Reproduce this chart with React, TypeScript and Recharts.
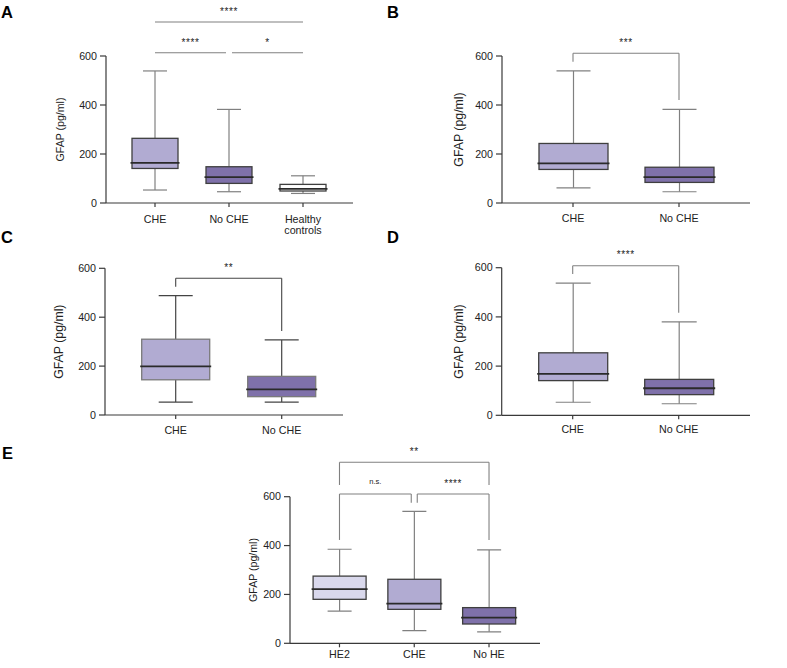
import React from 'react';
import { ComposedChart, Bar, XAxis, YAxis, ReferenceLine } from 'recharts';

const FONT = '"Liberation Sans", Arial, Helvetica, sans-serif';

// ---------- data ----------
const yTicks = [0, 200, 400, 600];
const yLabel = 'GFAP (pg/ml)';

// Panel A
const aCategories = ['CHE', 'No CHE', 'Healthy controls'];
const aMin = [53, 46, 39];
const aQ1 = [141, 80, 49];
const aMedian = [164, 106, 58];
const aQ3 = [264, 148, 76];
const aMax = [539, 382, 111];

// Panel B
const bCategories = ['CHE', 'No CHE'];
const bMin = [62, 46];
const bQ1 = [137, 84];
const bMedian = [162, 106];
const bQ3 = [243, 146];
const bMax = [539, 382];

// Panel C
const cCategories = ['CHE', 'No CHE'];
const cMin = [53, 53];
const cQ1 = [144, 75];
const cMedian = [199, 105];
const cQ3 = [310, 158];
const cMax = [488, 307];

// Panel D
const dCategories = ['CHE', 'No CHE'];
const dMin = [53, 47];
const dQ1 = [141, 84];
const dMedian = [168, 110];
const dQ3 = [254, 146];
const dMax = [537, 380];

// Panel E
const eCategories = ['HE2', 'CHE', 'No HE'];
const eMin = [132, 52, 47];
const eQ1 = [180, 139, 79];
const eMedian = [222, 162, 105];
const eQ3 = [275, 262, 146];
const eMax = [385, 540, 382];

type Bracket = { from: string; to: string; y: number; label: string; legFrom?: number; legTo?: number };

const aBrackets: Bracket[] = [
  { from: 'CHE', to: 'No CHE', y: 613, label: '****' },
  { from: 'No CHE', to: 'Healthy controls', y: 613, label: '*' },
  { from: 'CHE', to: 'Healthy controls', y: 739, label: '****' },
];
const bBrackets: Bracket[] = [{ from: 'CHE', to: 'No CHE', y: 611, label: '***', legFrom: 577, legTo: 420 }];
const cBrackets: Bracket[] = [{ from: 'CHE', to: 'No CHE', y: 559, label: '**', legFrom: 525, legTo: 344 }];
const dBrackets: Bracket[] = [{ from: 'CHE', to: 'No CHE', y: 608, label: '****', legFrom: 574, legTo: 417 }];
const eBrackets: Bracket[] = [
  { from: 'HE2', to: 'No HE', y: 741, label: '**', legFrom: 648, legTo: 648 },
  { from: 'HE2', to: 'CHE', y: 611, label: 'n.s.', legFrom: 423, legTo: 575 },
  { from: 'CHE', to: 'No HE', y: 611, label: '****', legFrom: 575, legTo: 423 },
];

// ---------- styles ----------
const FILLS: Record<string, string> = {
  CHE: '#b1abd2',
  'No CHE': '#7f71aa',
  'Healthy controls': '#ffffff',
  HE2: '#d9d8ec',
  'No HE': '#7f71aa',
};

const GAP = 3;

type PanelCfg = {
  categories: string[];
  min: number[];
  q1: number[];
  median: number[];
  q3: number[];
  max: number[];
  brackets: Bracket[];
  left: number;
  top: number;
  width: number;
  height: number;
  margin: { top: number; right: number; bottom: number; left: number };
  xAxisHeight: number;
  padL: number;
  padR: number;
  barSize: number;
  capWidth: number;
  yLabelSize: number;
  yLabelOffset: number;
  xTickMargin: number;
  whisker: string;
  boxStroke: string;
  bracketColor: string;
};

function CatTick(props: any) {
  const { x, y, payload } = props;
  const v = String(payload.value);
  const words = v.length > 10 ? v.split(' ') : [v];
  return (
    <text x={x} y={y} textAnchor="middle" fontSize={10.7} fill="#222" fontFamily={FONT}>
      {words.map((w, i) => (
        <tspan key={i} x={x} dy={i === 0 ? '0.71em' : '1.1em'}>
          {w}
        </tspan>
      ))}
    </text>
  );
}

function Panel({ cfg }: { cfg: PanelCfg }) {
  const rows = cfg.categories.map((name, i) => ({
    name,
    range: [cfg.min[i], cfg.max[i]],
    min: cfg.min[i],
    q1: cfg.q1[i],
    median: cfg.median[i],
    q3: cfg.q3[i],
    max: cfg.max[i],
  }));

  const boxShape = (props: any) => {
    const { x, y, width, height, index } = props;
    const d = rows[index] || props.payload;
    if (!d || x == null || y == null) return <g />;
    const top = Math.min(y, y + height);
    const bottom = Math.max(y, y + height);
    const py = (v: number) => bottom - ((v - d.min) / (d.max - d.min)) * (bottom - top);
    const cx = x + width / 2;
    const hw = cfg.capWidth / 2;
    return (
      <g>
        <line x1={cx} x2={cx} y1={py(d.max)} y2={py(d.q3)} stroke={cfg.whisker} strokeWidth={1.2} />
        <line x1={cx} x2={cx} y1={py(d.q1)} y2={py(d.min)} stroke={cfg.whisker} strokeWidth={1.2} />
        <line x1={cx - hw} x2={cx + hw} y1={py(d.max)} y2={py(d.max)} stroke={cfg.whisker} strokeWidth={1.2} />
        <line x1={cx - hw} x2={cx + hw} y1={py(d.min)} y2={py(d.min)} stroke={cfg.whisker} strokeWidth={1.2} />
        <rect
          x={x}
          y={py(d.q3)}
          width={width}
          height={py(d.q1) - py(d.q3)}
          fill={FILLS[d.name]}
          stroke={cfg.boxStroke}
          strokeWidth={1.3}
        />
        <line x1={x - 1.5} x2={x + width + 1.5} y1={py(d.median)} y2={py(d.median)} stroke="#2a2a2a" strokeWidth={1.8} />
      </g>
    );
  };

  const trimStart = (b: Bracket) => cfg.brackets.some((o) => o !== b && o.to === b.from && o.y === b.y);
  const trimEnd = (b: Bracket) => cfg.brackets.some((o) => o !== b && o.from === b.to && o.y === b.y);

  const lines: React.ReactNode[] = [];
  cfg.brackets.forEach((b, i) => {
    const ts = trimStart(b) ? GAP : 0;
    const te = trimEnd(b) ? GAP : 0;
    lines.push(
      <ReferenceLine
        key={`h${i}`}
        segment={[
          { x: b.from, y: b.y },
          { x: b.to, y: b.y },
        ]}
        ifOverflow="visible"
        stroke={cfg.bracketColor}
        shape={(p: any) => {
          const x1 = Math.min(p.x1, p.x2) + ts;
          const x2 = Math.max(p.x1, p.x2) - te;
          const isAst = b.label.indexOf('*') >= 0;
          return (
            <g>
              <line x1={x1} x2={x2} y1={p.y1} y2={p.y2} stroke={cfg.bracketColor} strokeWidth={1.1} />
              <text
                x={(x1 + x2) / 2}
                y={p.y1 - (isAst ? 7.3 : 10.5)}
                textAnchor="middle"
                fontSize={isAst ? 10 : 7.6}
                letterSpacing={isAst ? 0.6 : 0}
                fill="#222"
                fontFamily={FONT}
              >
                {b.label}
              </text>
            </g>
          );
        }}
      />
    );
    if (b.legFrom != null) {
      lines.push(
        <ReferenceLine
          key={`l${i}`}
          segment={[
            { x: b.from, y: b.y },
            { x: b.from, y: b.legFrom },
          ]}
          ifOverflow="visible"
          stroke={cfg.bracketColor}
          shape={(p: any) => (
            <line x1={p.x1 + ts} x2={p.x2 + ts} y1={p.y1} y2={p.y2} stroke={cfg.bracketColor} strokeWidth={1.1} />
          )}
        />
      );
    }
    if (b.legTo != null) {
      lines.push(
        <ReferenceLine
          key={`r${i}`}
          segment={[
            { x: b.to, y: b.y },
            { x: b.to, y: b.legTo },
          ]}
          ifOverflow="visible"
          stroke={cfg.bracketColor}
          shape={(p: any) => (
            <line x1={p.x1 - te} x2={p.x2 - te} y1={p.y1} y2={p.y2} stroke={cfg.bracketColor} strokeWidth={1.1} />
          )}
        />
      );
    }
  });

  return (
    <div style={{ position: 'absolute', left: cfg.left, top: cfg.top, width: cfg.width, height: cfg.height }}>
      <ComposedChart width={cfg.width} height={cfg.height} data={rows} margin={cfg.margin}>
        <XAxis
          dataKey="name"
          type="category"
          interval={0}
          padding={{ left: cfg.padL, right: cfg.padR }}
          height={cfg.xAxisHeight}
          tickSize={4}
          tickMargin={cfg.xTickMargin}
          tick={<CatTick />}
          axisLine={{ stroke: '#3a3a3a', strokeWidth: 1.2 }}
          tickLine={{ stroke: '#3a3a3a', strokeWidth: 1.2 }}
        />
        <YAxis
          type="number"
          domain={[0, 600]}
          ticks={yTicks}
          allowDataOverflow
          width={60}
          tickSize={6}
          tickMargin={3}
          tick={{ fontSize: 10.7, fill: '#222', fontFamily: FONT }}
          axisLine={{ stroke: '#3a3a3a', strokeWidth: 1.2 }}
          tickLine={{ stroke: '#3a3a3a', strokeWidth: 1.2 }}
          label={{
            value: yLabel,
            angle: -90,
            position: 'insideLeft',
            offset: cfg.yLabelOffset,
            style: { textAnchor: 'middle', fontSize: cfg.yLabelSize, fill: '#222', fontFamily: FONT },
          }}
        />
        <Bar dataKey="range" barSize={cfg.barSize} isAnimationActive={false} shape={boxShape} />
        {lines}
      </ComposedChart>
    </div>
  );
}

const panels: PanelCfg[] = [
  {
    categories: aCategories, min: aMin, q1: aQ1, median: aMedian, q3: aQ3, max: aMax, brackets: aBrackets,
    left: 0, top: 0, width: 380, height: 250,
    margin: { top: 56, right: 27, bottom: 17, left: 46 }, xAxisHeight: 30,
    padL: 12, padR: 13, barSize: 46, capWidth: 24, yLabelSize: 10.6, yLabelOffset: 14, xTickMargin: 8,
    whisker: '#808080', boxStroke: '#3f3f3f', bracketColor: '#808080',
  },
  {
    categories: bCategories, min: bMin, q1: bQ1, median: bMedian, q3: bQ3, max: bMax, brackets: bBrackets,
    left: 400, top: 0, width: 387, height: 250,
    margin: { top: 56, right: 37, bottom: 17, left: 42 }, xAxisHeight: 30,
    padL: 18, padR: 18, barSize: 69, capWidth: 34, yLabelSize: 12.3, yLabelOffset: 17, xTickMargin: 7.5,
    whisker: '#808080', boxStroke: '#3f3f3f', bracketColor: '#808080',
  },
  {
    categories: cCategories, min: cMin, q1: cQ1, median: cMedian, q3: cQ3, max: cMax, brackets: cBrackets,
    left: 0, top: 250, width: 380, height: 220,
    margin: { top: 18.3, right: 37, bottom: 25, left: 45 }, xAxisHeight: 30,
    padL: 17.7, padR: 8.3, barSize: 68, capWidth: 34, yLabelSize: 12.3, yLabelOffset: 14, xTickMargin: 7.7,
    whisker: '#444444', boxStroke: '#7a7a7a', bracketColor: '#444444',
  },
  {
    categories: dCategories, min: dMin, q1: dQ1, median: dMedian, q3: dQ3, max: dMax, brackets: dBrackets,
    left: 400, top: 250, width: 387, height: 220,
    margin: { top: 17.7, right: 37, bottom: 24.7, left: 41.7 }, xAxisHeight: 30,
    padL: 18, padR: 18.3, barSize: 69, capWidth: 35, yLabelSize: 12.3, yLabelOffset: 17.3, xTickMargin: 6.5,
    whisker: '#808080', boxStroke: '#3f3f3f', bracketColor: '#808080',
  },
  {
    categories: eCategories, min: eMin, q1: eQ1, median: eMedian, q3: eQ3, max: eMax, brackets: eBrackets,
    left: 200, top: 420, width: 360, height: 248,
    margin: { top: 76.7, right: 20, bottom: 4.7, left: 30 }, xAxisHeight: 20,
    padL: 12.1, padR: 13.6, barSize: 53, capWidth: 24, yLabelSize: 10.6, yLabelOffset: 23, xTickMargin: 3,
    whisker: '#808080', boxStroke: '#3f3f3f', bracketColor: '#808080',
  },
];

const panelLetters = [
  { t: 'A', x: 1, y: 18 },
  { t: 'B', x: 387, y: 18 },
  { t: 'C', x: 1, y: 243 },
  { t: 'D', x: 387, y: 243 },
  { t: 'E', x: 2, y: 459 },
];

export default function App() {
  return (
    <div
      style={{
        position: 'absolute',
        left: 0,
        top: 0,
        width: 787,
        height: 668,
        overflow: 'hidden',
        background: '#ffffff',
        fontFamily: FONT,
      }}
    >
      {panels.map((p, i) => (
        <Panel key={i} cfg={p} />
      ))}
      <svg width={787} height={668} style={{ position: 'absolute', left: 0, top: 0, pointerEvents: 'none' }}>
        {panelLetters.map((l) => (
          <text key={l.t} x={l.x} y={l.y} fontSize={16.5} fontWeight="bold" fill="#000" fontFamily={FONT}>
            {l.t}
          </text>
        ))}
      </svg>
    </div>
  );
}
